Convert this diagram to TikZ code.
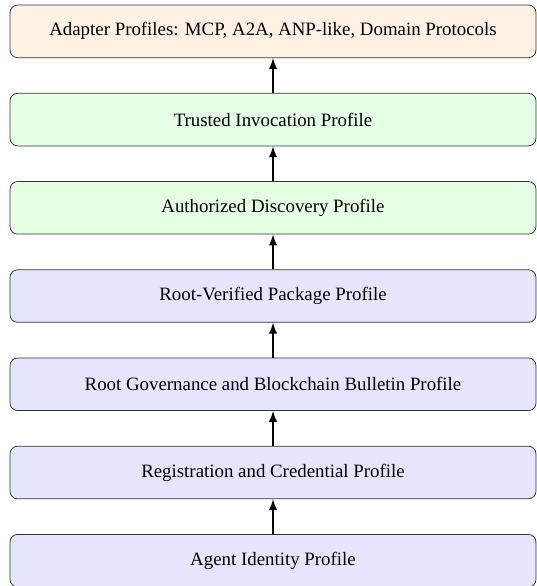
\documentclass[tikz,border=0pt]{standalone}
\usepackage{fontspec}
\setmainfont{Liberation Serif}
\usepackage{tikz}
\usetikzlibrary{arrows,shapes}
\usetikzlibrary{positioning}
\tikzstyle{layer}=[draw=black!80, rounded corners, minimum width=9.8cm,
                   minimum height=0.98cm, align=center]
\tikzstyle{base}=[layer, fill=blue!10]
\tikzstyle{access}=[layer, fill=green!10]
\tikzstyle{adapter}=[layer, fill=orange!10]
\tikzstyle{up}=[->,>=latex,line width=1pt]

\begin{document}
\begin{tikzpicture}[node distance=0.65cm]
\clip (-144.75pt,-13.4pt) rectangle (139.95pt,297.3pt);
\node[base] (aid) at (0,0) {Agent Identity Profile};
\node[base, above=of aid] (reg) {Registration and Credential Profile};
\node[base, above=of reg] (gov) {Root Governance and Blockchain Bulletin Profile};
\node[base, above=of gov] (pkg) {Root-Verified Package Profile};
\node[access, above=of pkg] (disc) {Authorized Discovery Profile};
\node[access, above=of disc] (inv) {Trusted Invocation Profile};
\node[adapter, above=of inv] (adp) {Adapter Profiles: MCP, A2A, ANP-like, Domain Protocols};
\foreach \a/\b in {aid/reg,reg/gov,gov/pkg,pkg/disc,disc/inv,inv/adp}
\draw[up] (\a) -- (\b);
\end{tikzpicture}
\end{document}
